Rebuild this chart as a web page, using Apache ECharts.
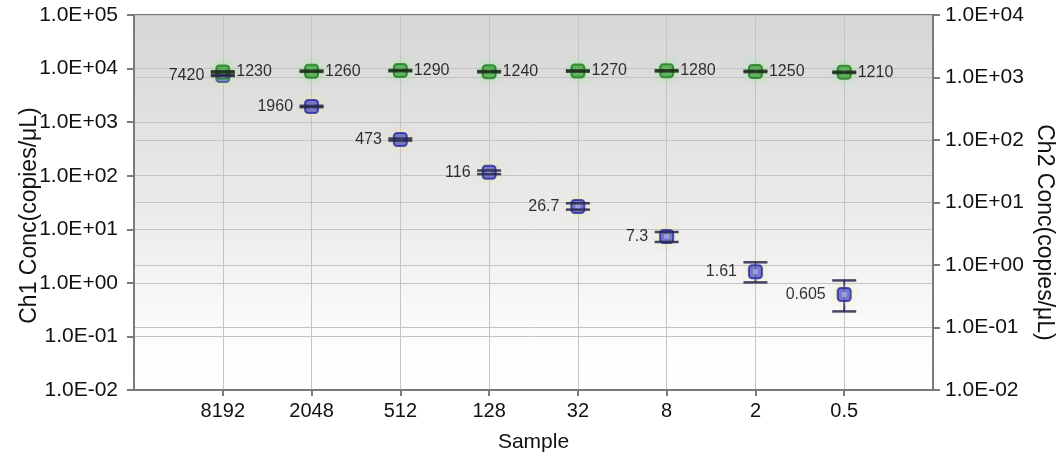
<!DOCTYPE html>
<html>
<head>
<meta charset="utf-8">
<script src="https://cdn.jsdelivr.net/npm/echarts@6/dist/echarts.min.js"></script>
<style>
  html, body { margin: 0; padding: 0; background: #ffffff; }
  #chart { width: 1062px; height: 462px; }
</style>
</head>
<body>
<div id="chart"></div>
<script>
// Dilution series samples (x axis)
const samples = ['8192', '2048', '512', '128', '32', '8', '2', '0.5'];

// Ch1 concentration (copies/µL), left axis, with lower/upper confidence limits
const ch1Values = [7420, 1960, 473, 116, 26.7, 7.3, 1.61, 0.605];
const ch1Low    = [7250, 1900, 452, 107, 23.3, 5.8, 1.02, 0.293];
const ch1High   = [7590, 2020, 495, 125, 30.6, 8.9, 2.42, 1.11];

// Ch2 concentration (copies/µL), right axis, with lower/upper confidence limits
const ch2Values = [1230, 1260, 1290, 1240, 1270, 1280, 1250, 1210];
const ch2Low    = [1200, 1230, 1260, 1210, 1240, 1250, 1220, 1180];
const ch2High   = [1260, 1290, 1320, 1270, 1300, 1310, 1280, 1240];

// One empty slot either side of the samples keeps them off the frame
const xCategories = [''].concat(samples, ['']);

const FONT = '"Liberation Sans", Arial, sans-serif';
const INK = '#111111';

function sciLabel(v) {
  const e = Math.round(Math.log10(v));
  const a = Math.abs(e);
  return '1.0E' + (e >= 0 ? '+' : '-') + (a < 10 ? '0' : '') + a;
}

function points(values) {
  return values.map((v, i) => [i + 1, v]);
}
function ranges(lo, hi) {
  return lo.map((v, i) => [i + 1, v, hi[i]]);
}

// Vertical stem of an error bar
function stemRenderer(color) {
  return function (params, api) {
    const x = api.value(0);
    const a = api.coord([x, api.value(1)]);
    const b = api.coord([x, api.value(2)]);
    return {
      type: 'line',
      shape: { x1: a[0], y1: a[1], x2: b[0], y2: b[1] },
      style: { stroke: color, lineWidth: 2 }
    };
  };
}
// Horizontal caps of an error bar
function capRenderer(color) {
  return function (params, api) {
    const x = api.value(0);
    const a = api.coord([x, api.value(1)]);
    const b = api.coord([x, api.value(2)]);
    const w = 12;
    return {
      type: 'group',
      children: [
        { type: 'line', shape: { x1: a[0] - w, y1: a[1], x2: a[0] + w, y2: a[1] },
          style: { stroke: color, lineWidth: 2.5, opacity: 0.85 } },
        { type: 'line', shape: { x1: b[0] - w, y1: b[1], x2: b[0] + w, y2: b[1] },
          style: { stroke: color, lineWidth: 2.5, opacity: 0.85 } }
      ]
    };
  };
}

const axisLineStyle = { color: '#7a7a7a', width: 2 };
const splitStyle = { color: '#c4c4c4', width: 1 };

const chart = echarts.init(document.getElementById('chart'), null, { renderer: 'canvas' });

chart.setOption({
  animation: false,
  backgroundColor: '#ffffff',
  textStyle: { fontFamily: FONT },
  grid: {
    left: 134, right: 129, top: 15, bottom: 72,
    outerBoundsMode: 'none',
    containLabel: false,
    show: true,
    borderColor: '#7a7a7a',
    borderWidth: 2,
    backgroundColor: {
      type: 'linear', x: 0, y: 0, x2: 0, y2: 1,
      colorStops: [
        { offset: 0, color: '#d6d6d6' },
        { offset: 0.55, color: '#ececec' },
        { offset: 0.85, color: '#fcfcfc' },
        { offset: 1, color: '#ffffff' }
      ]
    }
  },
  xAxis: {
    type: 'category',
    data: xCategories,
    boundaryGap: false,
    name: 'Sample',
    nameLocation: 'middle',
    nameGap: 42,
    nameTextStyle: { fontSize: 21, color: INK, fontFamily: FONT },
    axisLine: { lineStyle: axisLineStyle },
    axisTick: {
      length: 6,
      lineStyle: axisLineStyle,
      interval: (i) => i > 0 && i < xCategories.length - 1
    },
    axisLabel: {
      fontSize: 20, color: INK, margin: 11, fontFamily: FONT,
      interval: 0
    },
    splitLine: {
      show: true,
      lineStyle: splitStyle,
      interval: (i) => i > 0 && i < xCategories.length - 1
    }
  },
  yAxis: [
    {
      type: 'log',
      logBase: 10,
      min: 0.01,
      max: 100000,
      interval: 1,
      position: 'left',
      name: 'Ch1 Conc(copies/μL)',
      nameLocation: 'middle',
      nameGap: 93,
      nameMoveOverlap: false,
      nameRotate: 90,
      nameTextStyle: { fontSize: 23, color: INK, fontFamily: FONT, padding: [0, 26, 0, 0] },
      axisLine: { show: true, lineStyle: axisLineStyle },
      axisTick: { show: true, length: 7, lineStyle: axisLineStyle },
      axisLabel: { fontSize: 21, color: INK, margin: 16, formatter: sciLabel, fontFamily: FONT },
      splitLine: { show: true, lineStyle: splitStyle },
      minorTick: { show: false }
    },
    {
      type: 'log',
      logBase: 10,
      min: 0.01,
      max: 10000,
      interval: 1,
      position: 'right',
      name: 'Ch2 Conc(copies/μL)',
      nameLocation: 'middle',
      nameGap: 100,
      nameMoveOverlap: false,
      nameRotate: -90,
      nameTextStyle: { fontSize: 23, color: INK, fontFamily: FONT, padding: [0, 0, 0, 60] },
      axisLine: { show: true, lineStyle: axisLineStyle },
      axisTick: { show: true, length: 7, lineStyle: axisLineStyle },
      axisLabel: { fontSize: 21, color: INK, margin: 12, formatter: sciLabel, fontFamily: FONT },
      splitLine: { show: true, lineStyle: splitStyle }
    }
  ],
  series: [
    // Error bar stems (behind markers)
    { type: 'custom', name: 'Ch1 stem', yAxisIndex: 0, z: 2,
      renderItem: stemRenderer('#2e2e7a'), data: ranges(ch1Low, ch1High) },
    { type: 'custom', name: 'Ch2 stem', yAxisIndex: 1, z: 2,
      renderItem: stemRenderer('#1f4d1f'), data: ranges(ch2Low, ch2High) },

    // Ch1 markers with value labels on the left
    {
      type: 'scatter', name: 'Ch1', yAxisIndex: 0, z: 3,
      symbol: 'roundRect', symbolSize: 13,
      itemStyle: {
        color: '#4242c8', borderColor: '#2828a8', borderWidth: 2,
        shadowBlur: 8, shadowColor: 'rgba(235,235,160,0.9)'
      },
      label: {
        show: true, position: 'left', distance: 11,
        fontSize: 16, color: '#000', fontFamily: FONT,
        formatter: (p) => String(ch1Values[p.dataIndex])
      },
      data: points(ch1Values)
    },
    // Ch2 markers with value labels on the right
    {
      type: 'scatter', name: 'Ch2', yAxisIndex: 1, z: 3,
      symbol: 'roundRect', symbolSize: 13,
      itemStyle: {
        color: '#389a38', borderColor: '#227a22', borderWidth: 2,
        shadowBlur: 8, shadowColor: 'rgba(150,235,150,0.9)'
      },
      label: {
        show: true, position: 'right', distance: 6,
        fontSize: 16, color: '#000', fontFamily: FONT,
        formatter: (p) => String(ch2Values[p.dataIndex])
      },
      data: points(ch2Values)
    },
    // Light centres of the markers
    {
      type: 'scatter', name: 'Ch1 core', yAxisIndex: 0, z: 4, silent: true,
      symbol: 'roundRect', symbolSize: 5,
      itemStyle: { color: '#a9a9e6' },
      data: points(ch1Values)
    },
    {
      type: 'scatter', name: 'Ch2 core', yAxisIndex: 1, z: 4, silent: true,
      symbol: 'roundRect', symbolSize: 5,
      itemStyle: { color: '#8fcf8f' },
      data: points(ch2Values)
    },

    // Error bar caps (drawn over markers)
    { type: 'custom', name: 'Ch1 caps', yAxisIndex: 0, z: 5,
      renderItem: capRenderer('#26264a'), data: ranges(ch1Low, ch1High) },
    { type: 'custom', name: 'Ch2 caps', yAxisIndex: 1, z: 5,
      renderItem: capRenderer('#1b2e1b'), data: ranges(ch2Low, ch2High) }
  ]
});
</script>
</body>
</html>
